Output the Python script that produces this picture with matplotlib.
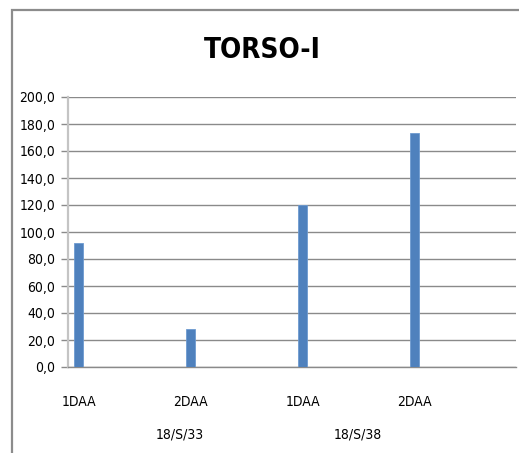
import matplotlib.pyplot as plt
from matplotlib.patches import Rectangle

# data
categories = ['1DAA', '2DAA', '1DAA', '2DAA']
groups = ['18/S/33', '18/S/38']
values = [92.0, 28.0, 120.0, 173.0]
yticks = [0, 20, 40, 60, 80, 100, 120, 140, 160, 180, 200]

plt.rcParams['font.family'] = ['DejaVu Sans']
plt.rcParams['font.stretch'] = 'condensed'

W, H = 519, 453
fig = plt.figure(figsize=(W / 100, H / 100), dpi=100)

# chart frame (cut off at right and bottom like the screenshot)
fig.patches.append(Rectangle((12 / W, -0.1), 1.2, 1 - 10 / H + 0.1, transform=fig.transFigure,
                             fill=False, edgecolor='#8c8c8c', linewidth=1.6))

ax = fig.add_axes([68 / W, (H - 367) / H, (516 - 68) / W, (367 - 97) / H])

x = list(range(len(categories)))
ax.bar(x, values, width=0.08, color='#4F81BD', edgecolor='#6d9ad0', linewidth=0.6, zorder=3)

ax.set_xlim(-0.094, 3.906)
ax.set_ylim(0, 200)
ax.set_yticks(yticks)
ax.set_yticklabels([f'{v:.1f}'.replace('.', ',') for v in yticks], fontsize=10)
ax.yaxis.grid(True, color='#8a8a8a', linewidth=1.0, zorder=0)

ax.set_xticks(x)
ax.set_xticklabels(categories, fontsize=10)
ax.tick_params(axis='x', length=0, pad=20)
ax.tick_params(axis='y', direction='out', length=5, width=1, color='#8a8a8a', pad=4)

for s in ['top', 'right']:
    ax.spines[s].set_visible(False)
ax.spines['left'].set_color('#c4c4c4')
ax.spines['left'].set_linewidth(1.6)
ax.spines['bottom'].set_color('#8a8a8a')
ax.spines['bottom'].set_linewidth(1.0)

# group labels under the categories
fig.text(180 / W, 1 - 435 / H, groups[0], ha='center', va='center', fontsize=10)
fig.text(358 / W, 1 - 435 / H, groups[1], ha='center', va='center', fontsize=10)

fig.text(262 / W, 1 - 50 / H, 'TORSO-I', ha='center', va='center', fontsize=20, fontweight='bold')

fig.savefig('out.png', dpi=100)
